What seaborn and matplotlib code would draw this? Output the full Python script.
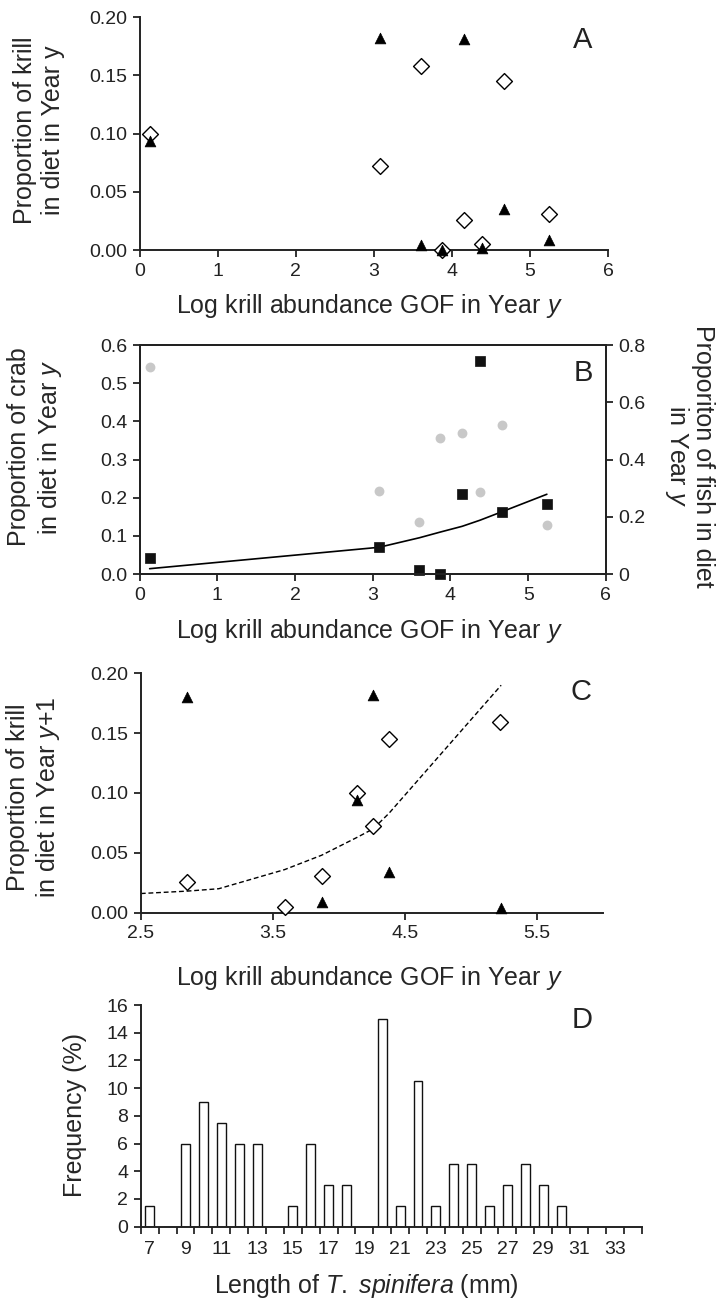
"""Diet panels A-D: krill / crab / fish proportions against log krill
abundance (GOF), and the T. spinifera length-frequency histogram.

Writes: out.png
"""

import matplotlib

matplotlib.use("Agg")
import matplotlib.pyplot as plt
import numpy as np
import seaborn as sns

# years shared by panels A and B (log krill abundance GOF in Year y)
KRILL_GOF = [0.13, 3.08, 3.60, 3.87, 4.15, 4.38, 4.66, 5.24]

# A: proportion of krill in diet in Year y
KRILL_TRI_A = [0.094, 0.182, 0.004, 0.000, 0.181, 0.002, 0.035, 0.009]
KRILL_DIA_A = [0.100, 0.072, 0.158, 0.000, 0.026, 0.005, 0.145, 0.031]

# B: crab (left axis), fish (right axis) and the fitted crab curve
CRAB_B = [0.043, 0.070, 0.0105, 0.000, 0.210, 0.559, 0.163, 0.183]
FISH_B = [0.724, 0.291, 0.183, 0.474, 0.494, 0.286, 0.522, 0.171]
CRAB_FIT_B = [0.014, 0.070, 0.095, 0.110, 0.125, 0.141, 0.163, 0.209]

# C: proportion of krill in diet in Year y+1
TRI_X_C = [2.85, 3.87, 4.14, 4.26, 4.38, 5.23]
TRI_Y_C = [0.180, 0.009, 0.094, 0.182, 0.034, 0.004]
DIA_X_C = [2.85, 3.59, 3.87, 4.14, 4.26, 4.38, 5.22]
DIA_Y_C = [0.026, 0.005, 0.031, 0.100, 0.072, 0.145, 0.159]
FIT_X_C = [2.50, 2.85, 3.09, 3.59, 3.87, 4.14, 4.26, 4.38, 5.23]
FIT_Y_C = [0.016, 0.018, 0.020, 0.036, 0.048, 0.063, 0.070, 0.083, 0.190]

# D: length frequency of T. spinifera
LENGTH_MM = list(range(7, 31))
FREQ_PCT = [1.5, 0, 6, 9, 7.5, 6, 6, 0, 1.5, 6, 3, 3, 0, 15,
            1.5, 10.5, 1.5, 4.5, 4.5, 1.5, 3, 4.5, 3, 1.5]

XLAB = "Log krill abundance GOF in Year $\\it{y}$"
TICK_FS = 14
LABEL_FS = 18
LETTER_FS = 21


def style_axis(ax, box=False):
    for side in ("top", "right"):
        ax.spines[side].set_visible(box)
    ax.tick_params(direction="out", length=5, width=1.3, labelsize=TICK_FS, pad=4,
                   colors="#222222")


def tri(ax, x, y):
    sns.scatterplot(x=x, y=y, marker="^", s=60, color="black", edgecolor="black",
                    linewidth=0.5, clip_on=False, zorder=4, ax=ax)


def diamond(ax, x, y):
    sns.scatterplot(x=x, y=y, marker="D", s=65, color="white", edgecolor="black",
                    linewidth=1.0, clip_on=False, zorder=3, ax=ax)


def main() -> None:
    sns.set_style("ticks")
    plt.rcParams["font.family"] = ["Liberation Sans", "DejaVu Sans"]
    plt.rcParams["mathtext.fontset"] = "custom"
    plt.rcParams["mathtext.rm"] = "Liberation Sans"
    plt.rcParams["mathtext.it"] = "Liberation Sans:italic"
    plt.rcParams["axes.linewidth"] = 1.4
    plt.rcParams["axes.edgecolor"] = "#222222"
    plt.rcParams["text.color"] = "#222222"

    fig = plt.figure(figsize=(7.17, 12.99), dpi=100)

    # ---- A ----
    ax = fig.add_axes([0.1946, 0.8075, 0.6537, 0.1792])
    diamond(ax, KRILL_GOF, KRILL_DIA_A)
    tri(ax, KRILL_GOF, KRILL_TRI_A)
    ax.set_xlim(0, 6)
    ax.set_ylim(0, 0.20)
    ax.set_xticks(range(7))
    yt = [0, 0.05, 0.10, 0.15, 0.20]
    ax.set_yticks(yt, [f"{v:.2f}" for v in yt])
    style_axis(ax)
    ax.set_xlabel(XLAB, fontsize=LABEL_FS)
    ax.set_ylabel("Proportion of krill\nin diet in Year y", fontsize=LABEL_FS)
    ax.xaxis.set_label_coords(0.49, -0.18)
    ax.yaxis.set_label_coords(-0.159, 0.516)
    fig.text(0.813, 1 - 48 / 1299, "A", fontsize=LETTER_FS, ha="center", va="baseline")

    # ---- B ----
    ax = fig.add_axes([0.1946, 0.5581, 0.6505, 0.1763])
    sns.lineplot(x=KRILL_GOF, y=CRAB_FIT_B, color="black", linewidth=1.2, ax=ax)
    sns.scatterplot(x=KRILL_GOF, y=CRAB_B, marker="s", s=55, color="#111111",
                    edgecolor="#111111", linewidth=0.5, clip_on=False, zorder=4, ax=ax)
    ax.set_xlim(0, 6)
    ax.set_ylim(0, 0.6)
    ax.set_xticks(range(7))
    yt = [0, 0.1, 0.2, 0.3, 0.4, 0.5, 0.6]
    ax.set_yticks(yt, [f"{v:.1f}" for v in yt])
    style_axis(ax, box=True)
    ax.set_xlabel(XLAB, fontsize=LABEL_FS)
    ax.set_ylabel("Proportion of crab\nin diet in Year $\\it{y}$", fontsize=LABEL_FS)
    ax.xaxis.set_label_coords(0.492, -0.188)
    ax.yaxis.set_label_coords(-0.163, 0.555)

    ax2 = ax.twinx()
    sns.scatterplot(x=KRILL_GOF, y=FISH_B, marker="o", s=50, color="#c8c8c8",
                    edgecolor="#c8c8c8", linewidth=0, clip_on=False, zorder=2, ax=ax2)
    ax2.set_ylim(0, 0.8)
    yt2 = [0, 0.2, 0.4, 0.6, 0.8]
    ax2.set_yticks(yt2, ["0", "0.2", "0.4", "0.6", "0.8"])
    ax2.tick_params(direction="out", length=5, width=1.3, labelsize=TICK_FS, pad=4,
                    colors="#222222")
    ax2.set_ylabel("Proporiton of fish in diet\nin Year $\\it{y}$", fontsize=LABEL_FS,
                   rotation=270, va="bottom", linespacing=1.0)
    ax2.yaxis.set_label_coords(1.122, 0.515)
    fig.text(0.813, 1 - 381 / 1299, "B", fontsize=LETTER_FS, ha="center", va="baseline")

    # ---- C ----
    ax = fig.add_axes([0.1964, 0.2974, 0.6443, 0.1843])
    sns.lineplot(x=FIT_X_C, y=FIT_Y_C, color="black", linewidth=1.0,
                 linestyle=(0, (3.5, 2)), ax=ax)
    diamond(ax, DIA_X_C, DIA_Y_C)
    tri(ax, TRI_X_C, TRI_Y_C)
    ax.set_xlim(2.5, 6.0)
    ax.set_ylim(0, 0.20)
    xt = [2.5, 3.5, 4.5, 5.5]
    ax.set_xticks(xt, [f"{v:.1f}" for v in xt])
    yt = [0, 0.05, 0.10, 0.15, 0.20]
    ax.set_yticks(yt, [f"{v:.2f}" for v in yt])
    style_axis(ax)
    ax.set_xlabel(XLAB, fontsize=LABEL_FS)
    ax.set_ylabel("Proportion of krill\nin diet in Year $\\it{y}$+1", fontsize=LABEL_FS)
    ax.xaxis.set_label_coords(0.494, -0.214)
    ax.yaxis.set_label_coords(-0.171, 0.481)
    fig.text(0.81, 1 - 700 / 1299, "C", fontsize=LETTER_FS, ha="center", va="baseline")

    # ---- D ----
    ax = fig.add_axes([0.1964, 0.0557, 0.6984, 0.1706])
    sns.barplot(x=LENGTH_MM, y=FREQ_PCT, native_scale=True, width=0.5, color="white",
                edgecolor="#111111", linewidth=1.0, saturation=1, errorbar=None, ax=ax)
    ax.set_xlim(6.5, 34.5)
    ax.set_ylim(0, 16)
    ax.set_yticks(range(0, 17, 2))
    ax.set_xticks(range(7, 34, 2), [str(v) for v in range(7, 34, 2)])
    ax.set_xticks(np.arange(6.5, 35, 1), minor=True)
    style_axis(ax)
    ax.tick_params(axis="x", which="major", length=0, pad=10)
    ax.tick_params(axis="x", which="minor", direction="out", length=5, width=1.3)
    ax.set_xlabel("Length of $\\mathit{T.}$ $\\mathit{spinifera}$ (mm)", fontsize=LABEL_FS)
    ax.set_ylabel("Frequency (%)", fontsize=LABEL_FS)
    ax.xaxis.set_label_coords(0.45, -0.205)
    ax.yaxis.set_label_coords(-0.107, 0.504)
    fig.text(0.812, 1 - 1028 / 1299, "D", fontsize=LETTER_FS, ha="center", va="baseline")

    fig.savefig("out.png", dpi=100)


if __name__ == "__main__":
    main()
